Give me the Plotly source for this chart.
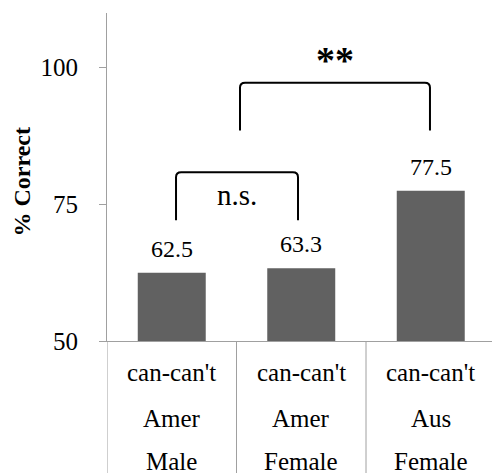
import plotly.graph_objects as go

# ---- data ----
cat_line1 = ["can-can't", "can-can't", "can-can't"]
cat_line2 = ["Amer", "Amer", "Aus"]
cat_line3 = ["Male", "Female", "Female"]
values = [62.5, 63.3, 77.5]
value_labels = ["62.5", "63.3", "77.5"]
y_ticks = [50, 75, 100]
y_title = "% Correct"

# significance brackets
sig_x_left = [0.033, 0.527]
sig_x_right = [0.975, 1.994]
sig_y_bottom = [72.1, 88.5]
sig_y_top = [80.85, 97.25]
sig_labels = ["n.s.", "<b>**</b>"]
sig_label_size = [29, 38]

FONT = "Liberation Serif, Times New Roman, serif"
AXIS_GRAY = "#a0a0a0"
BAR_COLOR = "#616161"

x_pos = list(range(len(values)))

fig = go.Figure()
fig.add_trace(go.Bar(
    x=x_pos, y=values, width=0.525,
    marker=dict(color=BAR_COLOR, line=dict(width=0)),
    hoverinfo="skip",
))

annotations = []
shapes = []

# value labels above bars
for xi, v, lab in zip(x_pos, values, value_labels):
    annotations.append(dict(x=xi, y=v, xref="x", yref="y", text=lab,
                            showarrow=False, xanchor="center", yanchor="bottom", yshift=9,
                            font=dict(family=FONT, size=24, color="black")))

# category labels (three lines, widely spaced)
for xi, l1, l2, l3 in zip(x_pos, cat_line1, cat_line2, cat_line3):
    for txt, dy in ((l1, -31), (l2, -77), (l3, -120)):
        annotations.append(dict(x=xi, y=0, xref="x", yref="paper", text=txt,
                                showarrow=False, xanchor="center", yanchor="middle", yshift=dy,
                                font=dict(family=FONT, size=25, color="black")))

# category separators below the axis
for b in [-0.5, 0.5, 1.5, 2.5]:
    shapes.append(dict(type="line", xref="x", yref="paper", x0=b, x1=b,
                       y0=0, y1=-0.45, line=dict(color=AXIS_GRAY, width=1)))

# brackets with rounded corners
rx, ry = 0.04, 0.9
for xl, xr, yb, yt, lab, fs in zip(sig_x_left, sig_x_right, sig_y_bottom,
                                    sig_y_top, sig_labels, sig_label_size):
    path = (f"M {xl},{yb} L {xl},{yt - ry} Q {xl},{yt} {xl + rx},{yt} "
            f"L {xr - rx},{yt} Q {xr},{yt} {xr},{yt - ry} L {xr},{yb}")
    shapes.append(dict(type="path", xref="x", yref="y", path=path,
                       line=dict(color="black", width=2)))
    is_star = "**" in lab
    annotations.append(dict(x=(xl + xr) / 2, y=yt, xref="x", yref="y",
                            text=lab, showarrow=False, xanchor="center",
                            yanchor="bottom" if is_star else "top",
                            yshift=0 if is_star else -5,
                            font=dict(family=FONT, size=fs, color="black")))

# y-axis title
annotations.append(dict(x=0, y=0.5, xref="paper", yref="paper", text="<b>" + y_title + "</b>",
                        showarrow=False, textangle=-90, xanchor="center", yanchor="middle",
                        xshift=-85.5, yshift=-5,
                        font=dict(family=FONT, size=24, color="black")))

fig.update_layout(
    width=492, height=473,
    margin=dict(l=107, r=0, t=13, b=132),
    paper_bgcolor="white", plot_bgcolor="white",
    showlegend=False,
    annotations=annotations, shapes=shapes,
    xaxis=dict(range=[-0.5, -0.5 + 385 / 129.5], showticklabels=False,
               showgrid=False, zeroline=False, ticks="",
               showline=True, linecolor=AXIS_GRAY, linewidth=1),
    yaxis=dict(range=[50, 110], tickvals=y_ticks, ticks="outside", ticklen=7,
               tickcolor=AXIS_GRAY, tickwidth=1, showgrid=False, zeroline=False,
               showline=True, linecolor=AXIS_GRAY, linewidth=1,
               ticklabelstandoff=16,
               tickfont=dict(family=FONT, size=25, color="black")),
)

fig.write_html("out.html")
